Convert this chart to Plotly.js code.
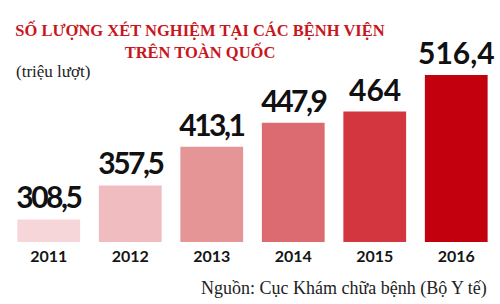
<!DOCTYPE html>
<html>
<head>
<meta charset="utf-8">
<script src="https://cdn.plot.ly/plotly-3.0.1.min.js"></script>
<style>
html,body{margin:0;padding:0;background:#fff;}
#chart{width:500px;height:304px;}
#chart g.annotation:nth-of-type(-n+6) text.annotation-text{letter-spacing:-2.5px;}
</style>
</head>
<body>
<div id="chart"></div>
<script>
const years = ['2011', '2012', '2013', '2014', '2015', '2016'];
const tests = [308.5, 357.5, 413.1, 447.9, 464, 516.4];
const valueLabels = ['308,5', '357,5', '413,1', '447,9', '464', '516,4'];
const barColors = ['#f6d6d9', '#f0bcc0', '#e69597', '#dc6a71', '#d3363f', '#c3000d'];
const titleText = 'SỐ LƯỢNG XÉT NGHIỆM TẠI CÁC BỆNH VIỆN<br>TRÊN TOÀN QUỐC';
const unitText = '(triệu lượt)';
const sourceText = 'Nguồn: Cục Khám chữa bệnh (Bộ Y tế)';

const trace = {
  type: 'bar',
  x: years,
  y: tests,
  base: 0,
  marker: {color: barColors, line: {width: 0}},
  hoverinfo: 'skip'
};

const annotations = years.map((yr, i) => ({
  x: i, y: tests[i], xref: 'x', yref: 'y',
  text: valueLabels[i], showarrow: false,
  yanchor: 'bottom', yshift: 3,
  font: {family: 'Lato', size: 30, color: '#111', weight: 'bold'}
}));
annotations.push({
  xref: 'paper', yref: 'paper', x: 0.0, y: 1.0, xanchor: 'left', yanchor: 'top',
  xshift: 6, yshift: -20,
  text: unitText, showarrow: false,
  font: {family: 'Liberation Serif', size: 17, color: '#222'}
});
annotations.push({
  xref: 'paper', yref: 'paper', x: 1, y: 0, xanchor: 'right', yanchor: 'top',
  xshift: -8, yshift: -34,
  text: sourceText, showarrow: false,
  font: {family: 'Liberation Serif', size: 18, color: '#222'}
});

const layout = {
  width: 500, height: 304,
  margin: {l: 8, r: 3, t: 40, b: 62},
  paper_bgcolor: '#fff', plot_bgcolor: '#fff',
  title: {
    text: titleText,
    x: 0.4, xanchor: 'center', xref: 'container',
    y: 0.88, yanchor: 'top', yref: 'container',
    font: {family: 'Liberation Serif', size: 16.5, color: '#c8161d', weight: 'bold'}
  },
  bargap: 0.23,
  showlegend: false,
  xaxis: {
    type: 'category', showgrid: false, zeroline: false, showline: false, ticks: '',
    ticklabelstandoff: 3,
    tickfont: {family: 'Lato', size: 16, color: '#151515', weight: 'bold'}
  },
  yaxis: {
    range: [276, 567], visible: false, showgrid: false, zeroline: false
  },
  annotations: annotations
};

Plotly.newPlot('chart', [trace], layout, {staticPlot: true, displayModeBar: false});
</script>
</body>
</html>
